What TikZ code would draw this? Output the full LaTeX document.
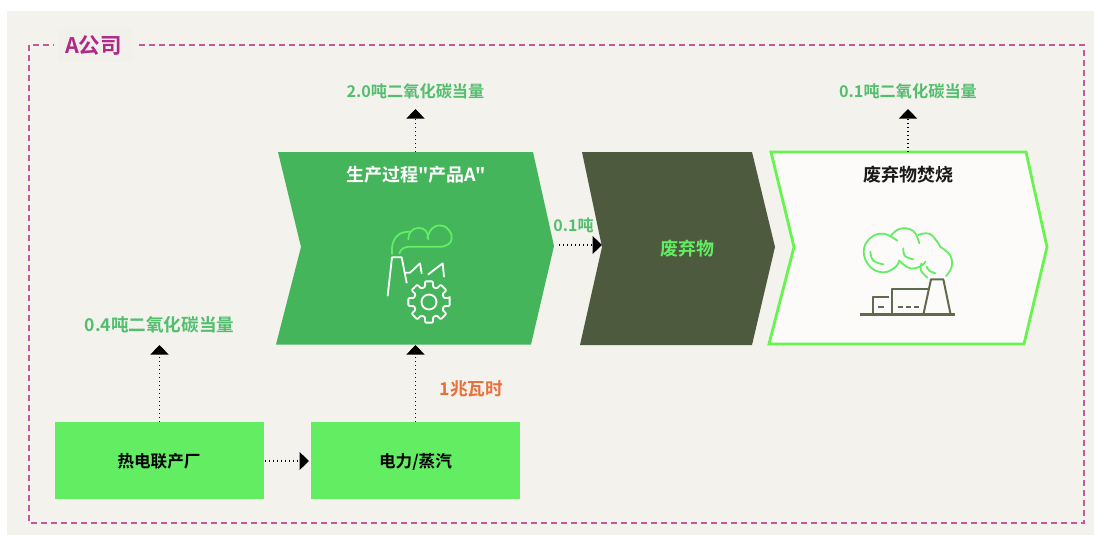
\documentclass[tikz,border=0pt]{standalone}
\usepackage{fontspec}
\usetikzlibrary{arrows.meta}
\setmainfont{Noto Sans CJK SC}[BoldFont={Noto Sans CJK SC Bold}]
\newfontfamily\plainquote{Noto Sans CJK SC}[BoldFont={Noto Sans CJK SC Bold}]
\definecolor{panel}{HTML}{F4F2ED}
\definecolor{patch}{HTML}{F1F0EB}
\definecolor{procgreen}{HTML}{45B55B}
\definecolor{wastedark}{HTML}{4E5A3E}
\definecolor{bright}{HTML}{63ED63}
\definecolor{strokegreen}{HTML}{66F54F}
\definecolor{offwhite}{HTML}{FCFBF9}
\definecolor{magtext}{HTML}{AE2A85}
\definecolor{magdash}{HTML}{C4599F}
\definecolor{orangetxt}{HTML}{E8703A}
\definecolor{lblgreen}{HTML}{52BE6E}
\definecolor{iconline}{HTML}{5F6B4F}
\tikzset{
  x=1pt,y=-1pt,
  every node/.style={inner sep=0pt,outer sep=0pt},
  co2/.style={text=lblgreen,font=\bfseries\fontsize{16.2}{18}\selectfont},
  boxlabel/.style={font=\bfseries\fontsize{18}{20}\selectfont},
  srcbox/.style={fill=bright,minimum width=209pt,minimum height=77pt,text depth=0pt},
  boxtext/.style={font=\bfseries\fontsize{16.6}{18}\selectfont},
  ghost/.style={minimum width=250pt,minimum height=192pt},
  flow/.style={line width=1.1pt,dash pattern=on 1.1pt off 2.9pt,-{Triangle[length=9.5pt,width=18pt]},black},
  icw/.style={draw=white,line width=1.8pt,line cap=round,line join=round},
  icg/.style={draw=bright,line width=1.8pt,line cap=round,line join=round},
  icd/.style={draw=iconline,line width=2pt,line cap=butt,line join=round},
}
\begin{document}
\begin{tikzpicture}
\useasboundingbox (0,0) rectangle (1094,535);
\fill[white] (0,0) rectangle (1094,535);
\fill[panel] (7,11) rectangle (1094,535);
% frame
\draw[magdash,line width=1.3pt,dash pattern=on 6pt off 4pt] (139,45) -- (1084,45) -- (1084,523) -- (29,523) -- (29,45) -- (54,45);
\node[fill=patch,minimum width=74pt,minimum height=33pt] (patchbox) at (95,46) {};
\node[text=magtext,font=\bfseries\fontsize{21.5}{24}\selectfont] (company) at (93.5,46) {A公司};
% chevrons
\fill[procgreen] (278,152) -- (533,152) -- (554,246) -- (531,344.5) -- (276,344.5) -- (301,247) -- cycle;
\fill[wastedark] (582,152) -- (752,152) -- (775,247) -- (752,345) -- (580,345) -- (602,247) -- cycle;
\draw[strokegreen,line width=2.8pt,fill=offwhite,line join=miter] (771,152) -- (1026,152) -- (1047,247) -- (1024,344) -- (769,344) -- (794,247) -- cycle;
\node[ghost] (proc) at (415.5,248) {};
\node[ghost] (burn) at (908,248) {};
\coordinate (proctip) at (559,245);
\coordinate (wastenotch) at (602,245);
% boxes
\node[srcbox] (chp) at (159.5,460.5) {};
\node[srcbox] (power) at (415.5,460.5) {};
% texts
\node[boxtext] (chplabel) at (159,461.5) {热电联产厂};
\node[boxtext] (powerlabel) at (415.5,461.5) {电力/蒸汽};
\node[text=white,font=\plainquote\bfseries\fontsize{18}{20}\selectfont] (proclabel) at (416,175) {生产过程"产品A"};
\node[boxlabel,text=bright] (wastelabel) at (687.5,248.5) {废弃物};
\node[boxlabel,text=black!90] (burnlabel) at (908,175) {废弃物焚烧};
\node[co2] (co2a) at (415.5,91) {2.0吨二氧化碳当量};
\node[co2] (co2b) at (908,91) {0.1吨二氧化碳当量};
\node[co2,font=\bfseries\fontsize{17.6}{20}\selectfont] (co2c) at (159.5,325) {0.4吨二氧化碳当量};
\node[co2,font=\bfseries\fontsize{16}{18}\selectfont] (tons) at (573.5,225) {0.1吨};
\node[co2,text=orangetxt,font=\bfseries\fontsize{17.7}{20}\selectfont] (mwh) at (471.5,389) {1兆瓦时};
% connector anchors
\coordinate (co2atip) at (415.5,109);
\coordinate (co2btip) at (908,109);
\coordinate (co2ctip) at (159.5,345);
\coordinate (procbot) at (415.5,345);
\coordinate (powerin) at (309,461);
\coordinate (procup) at (415.5,152);
\coordinate (burnup) at (908,152);
\coordinate (chpout) at (265,461);
% connectors
\draw[flow] (procup) -- (co2atip);
\draw[flow] (burnup) -- (co2btip);
\draw[flow] (chp.north) -- (co2ctip);
\draw[flow] (power.north) -- (procbot);
\draw[flow] (chpout) -- (powerin);
\draw[flow] (proctip) -- (wastenotch);
% factory icon (coordinates in 3x crop units)
\begin{scope}[shift={(370,210)},x=0.3333pt,y=-0.3333pt]
  \draw[icg] plot[smooth,tension=0.7] coordinates {(66,132) (69,98) (88,72) (118,65)};
  \draw[icg] plot[smooth,tension=0.8] coordinates {(115,88) (122,65) (145,54) (168,63) (175,88)};
  \draw[icg] plot[smooth,tension=0.8] coordinates {(172,84) (187,55) (215,47) (238,62) (245,85) (235,103) (215,110)};
  \draw[icg] (88,130) .. controls (92,116) and (105,110) .. (120,110) -- (215,110);
  \draw[icw] (53,257) -- (66,142) -- (95,142) -- (110,218);
  \draw[icw] (105,188) -- (120,188) -- (150,160) -- (155,190);
  \draw[icw] (175,193) -- (218,160) -- (222,200);
\end{scope}
\begin{scope}[shift={(429,302)}]
  \draw[icw] (0,0) circle (7.5);
  \draw[icw,rounded corners=1pt] (-11:21)
    \foreach \a in {0,45,...,315} {
      -- (\a-11:21) -- (\a+11:21) -- (\a+15:15.5) -- (\a+30:15.5)
    } -- cycle;
\end{scope}
% incineration icon
\begin{scope}[shift={(850,220)},x=0.3333pt,y=-0.3333pt]
  \draw[icg] plot[smooth,tension=0.7] coordinates {(142,62) (100,41) (60,55) (41,95) (60,140) (100,157) (135,142) (148,122)};
  \draw[icg] plot[smooth,tension=0.7] coordinates {(148,122) (180,145) (213,138) (226,125)};
  \draw[icg] plot[smooth,tension=0.7] coordinates {(122,48) (150,26) (190,33) (208,70)};
  \draw[icg] plot[smooth,tension=0.7] coordinates {(205,45) (240,42) (270,78)};
  \draw[icg] plot[smooth,tension=0.7] coordinates {(270,80) (300,105) (305,140) (288,168)};
  \draw[icg] plot[smooth,tension=0.7] coordinates {(61,95) (70,122) (100,133)};
  \draw[icg] plot[smooth,tension=0.7] coordinates {(160,85) (165,108) (190,118)};
  \draw[icg] plot[smooth,tension=0.7] coordinates {(215,130) (212,150) (232,173)};
  \draw[icg] plot[smooth,tension=0.7] coordinates {(230,140) (238,152) (256,160)};
  \draw[icd,line width=2.4pt] (30,284) -- (315,284);
  \draw[icd] (68,284) -- (68,232) -- (118,232);
  \draw[icd] (127,284) -- (127,208) -- (235,208);
  \draw[icd] (220,284) -- (243,178) -- (280,178) -- (302,284);
  \draw[icd] (85,260) -- (102,260);
  \draw[icd] (143,260) -- (160,260) (168,260) -- (184,260) (192,260) -- (208,260);
\end{scope}
\end{tikzpicture}
\end{document}
